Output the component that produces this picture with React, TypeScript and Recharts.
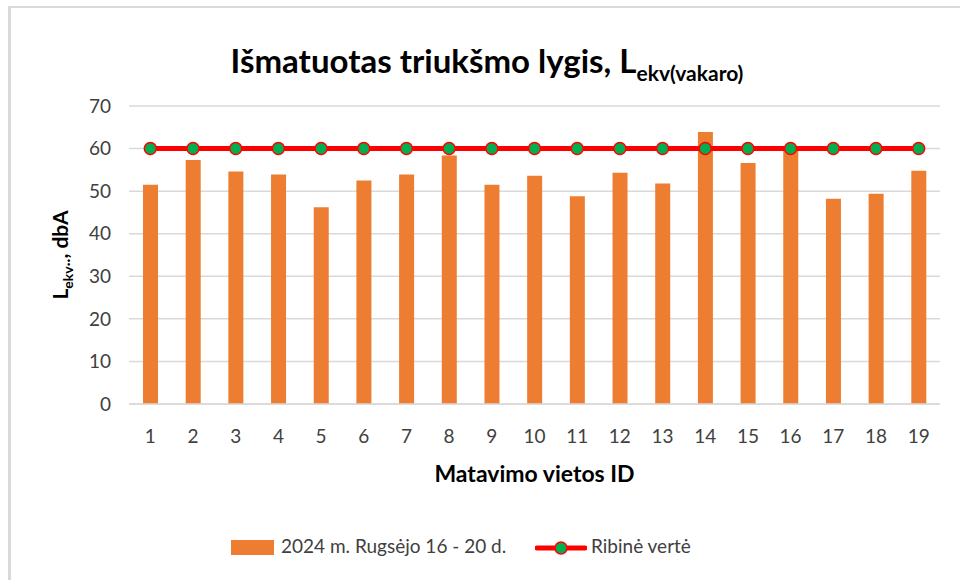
import { ComposedChart, Bar, Line, XAxis, YAxis, CartesianGrid, Label } from 'recharts';

const sites = ['1', '2', '3', '4', '5', '6', '7', '8', '9', '10', '11', '12', '13', '14', '15', '16', '17', '18', '19'];
const measured = [51.5, 57.3, 54.6, 53.9, 46.2, 52.5, 53.9, 58.4, 51.5, 53.6, 48.8, 54.3, 51.8, 63.9, 56.6, 59.8, 48.2, 49.4, 54.8];
const limitValues = [60, 60, 60, 60, 60, 60, 60, 60, 60, 60, 60, 60, 60, 60, 60, 60, 60, 60, 60];
const yTicks = [0, 10, 20, 30, 40, 50, 60, 70];

const barName = '2024 m. Rugsėjo 16 - 20 d.';
const lineName = 'Ribinė vertė';

const FONT = 'Lato, "Open Sans", sans-serif';
const TEXT = '#404040';
const ORANGE = '#ED7D31';
const RED = '#FF0000';
const GREEN = '#00B050';

const data = sites.map((id, i) => ({ id, measured: measured[i], limit: limitValues[i] }));

function YTitle({ viewBox }: any) {
  const cx = 60;
  const cy = viewBox.y + viewBox.height / 2;
  return (
    <text
      x={cx}
      y={cy}
      transform={`rotate(-90 ${cx} ${cy})`}
      textAnchor="middle"
      fontFamily={FONT}
      fontWeight={700}
      fontSize={21}
      fill="#000"
    >
      L<tspan fontSize={14} dy={5}>ekv··</tspan>
      <tspan dy={-5} fontSize={21}>, dbA</tspan>
    </text>
  );
}

export default function App() {
  return (
    <div
      style={{
        position: 'absolute',
        left: 8,
        top: 6,
        width: 952,
        height: 574,
        borderTop: '2px solid #d9d9d9',
        borderLeft: '3px solid #d9d9d9',
        boxSizing: 'border-box',
        background: '#fff',
        fontFamily: FONT,
      }}
    >
      <div
        style={{
          position: 'absolute',
          left: 0,
          width: 952,
          top: 32,
          textAlign: 'center',
          fontWeight: 700,
          fontSize: 33,
          color: '#000',
          lineHeight: '40px',
        }}
      >
        Išmatuotas triukšmo lygis, L<sub style={{ fontSize: 21 }}>ekv(vakaro)</sub>
      </div>

      <div style={{ position: 'absolute', left: -3, top: -2 }}>
        <ComposedChart
          width={952}
          height={574}
          data={data}
          margin={{ top: 100, right: 20, bottom: 136, left: 0 }}
          barCategoryGap={0}
        >
          <CartesianGrid vertical={false} stroke="#d9d9d9" strokeWidth={1.5} />
          <XAxis
            dataKey="id"
            height={40}
            tickSize={0}
            tickMargin={26}
            axisLine={{ stroke: '#d9d9d9', strokeWidth: 1.5 }}
            tick={{ fill: TEXT, fontSize: 19, fontFamily: FONT }}
          >
            <Label
              value="Matavimo vietos ID"
              position="insideBottom"
              offset={-38}
              style={{ fill: '#000', fontWeight: 700, fontSize: 23, fontFamily: FONT }}
            />
          </XAxis>
          <YAxis
            width={121}
            domain={[0, 70]}
            ticks={yTicks}
            tickSize={0}
            tickMargin={18}
            axisLine={false}
            tick={{ fill: TEXT, fontSize: 19, fontFamily: FONT }}
          >
            <Label content={<YTitle />} />
          </YAxis>
          <Bar dataKey="measured" name={barName} fill={ORANGE} barSize={15} isAnimationActive={false} />
          <Line
            dataKey="limit"
            name={lineName}
            stroke={RED}
            strokeWidth={5}
            dot={{ r: 6, fill: GREEN, stroke: RED, strokeWidth: 1.5 }}
            activeDot={false}
            isAnimationActive={false}
          />
        </ComposedChart>
      </div>

      <div
        style={{
          position: 'absolute',
          top: 522,
          left: 0,
          width: 952,
          height: 30,
          fontSize: 19,
          color: TEXT,
        }}
      >
        <div style={{ position: 'absolute', left: 220, top: 10, width: 43, height: 15, background: ORANGE }} />
        <div style={{ position: 'absolute', left: 270, top: 4, whiteSpace: 'nowrap' }}>{barName}</div>
        <svg style={{ position: 'absolute', left: 524, top: 8 }} width={52} height={20}>
          <line x1={2} y1={10} x2={50} y2={10} stroke={RED} strokeWidth={5} strokeLinecap="round" />
          <circle cx={26} cy={10} r={6} fill={GREEN} stroke={RED} strokeWidth={1.5} />
        </svg>
        <div style={{ position: 'absolute', left: 580, top: 4, whiteSpace: 'nowrap' }}>{lineName}</div>
      </div>
    </div>
  );
}
